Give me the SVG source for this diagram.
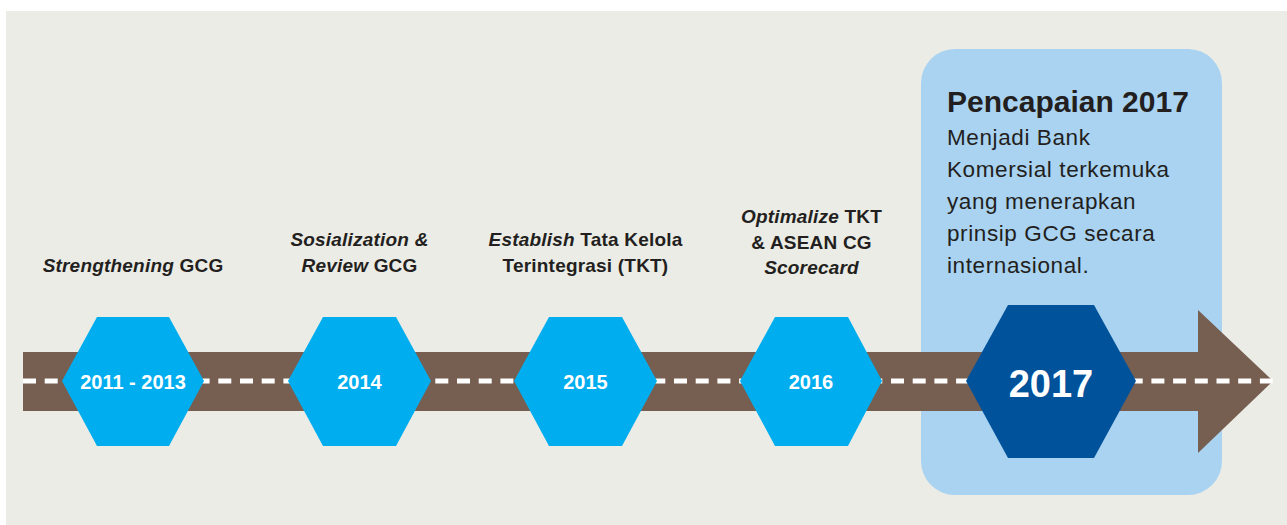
<svg xmlns="http://www.w3.org/2000/svg" width="1287" height="525" viewBox="0 0 1287 525">
<style>
.lbl{font-family:"Liberation Sans",Arial,sans-serif;font-weight:bold;font-size:19px;fill:#231F20;text-anchor:middle;letter-spacing:0.2px}
.it{font-style:italic}
.yr{font-family:"Liberation Sans",Arial,sans-serif;font-weight:bold;font-size:20px;fill:#FFFFFF;text-anchor:middle}
.hex{fill:#00AEEF}
.title{font-family:"Liberation Sans",Arial,sans-serif;font-weight:bold;font-size:30px;fill:#231F20}
.body{font-family:"Liberation Sans",Arial,sans-serif;font-size:22.5px;fill:#231F20;letter-spacing:0.6px}
</style>
<rect x="0" y="0" width="1287" height="525" fill="#FFFFFF"/>
<rect x="6" y="11" width="1281" height="514" fill="#ECECE6"/>
<g id="achievement-box">
<rect x="921" y="49" width="301" height="446" rx="34" ry="34" fill="#A9D3F1"/>
<text class="title" x="947" y="112">Pencapaian 2017</text>
<text class="body" x="947" y="145">Menjadi Bank</text>
<text class="body" x="947" y="177">Komersial terkemuka</text>
<text class="body" x="947" y="209">yang menerapkan</text>
<text class="body" x="947" y="241">prinsip GCG secara</text>
<text class="body" x="947" y="273">internasional.</text>
</g>
<g id="connectors">
<rect x="23" y="352" width="1176" height="59" fill="#765E50"/>
<polygon points="1198,310 1273,381 1198,453" fill="#765E50"/>
<line x1="23" y1="381" x2="1276" y2="381" stroke="#FFFFFF" stroke-width="5" stroke-dasharray="13 8.7"/>
</g>
<g id="node-2011">
<polygon class="hex" points="62,381 97,317 169,317 204,381 169,446 97,446"/>
<text class="yr" x="133" y="389">2011 - 2013</text>
<text class="lbl" x="133" y="272"><tspan class="it">Strengthening</tspan> GCG</text>
</g>
<g id="node-2014">
<polygon class="hex" points="288,381 323,317 396,317 431,381 396,446 323,446"/>
<text class="yr" x="359.5" y="389">2014</text>
<text class="lbl" x="359.5" y="246"><tspan class="it">Sosialization &amp;</tspan></text>
<text class="lbl" x="359.5" y="272"><tspan class="it">Review</tspan> GCG</text>
</g>
<g id="node-2015">
<polygon class="hex" points="514,381 549,317 622,317 657,381 622,446 549,446"/>
<text class="yr" x="585.5" y="389">2015</text>
<text class="lbl" x="585.5" y="246"><tspan class="it">Establish</tspan> Tata Kelola</text>
<text class="lbl" x="585.5" y="272">Terintegrasi (TKT)</text>
</g>
<g id="node-2016">
<polygon class="hex" points="740,381 775,317 848,317 882,381 848,446 775,446"/>
<text class="yr" x="811" y="389">2016</text>
<text class="lbl" x="811.5" y="223"><tspan class="it">Optimalize</tspan> TKT</text>
<text class="lbl" x="811.5" y="249">&amp; ASEAN CG</text>
<text class="lbl it" x="811.5" y="274">Scorecard</text>
</g>
<g id="node-2017">
<polygon points="966,381 1008,305 1094,305 1136,381 1094,458 1008,458" fill="#00529B"/>
<text x="1051" y="397" font-family="Liberation Sans, Arial, sans-serif" font-weight="bold" font-size="38" fill="#FFFFFF" text-anchor="middle">2017</text>
</g>
</svg>
